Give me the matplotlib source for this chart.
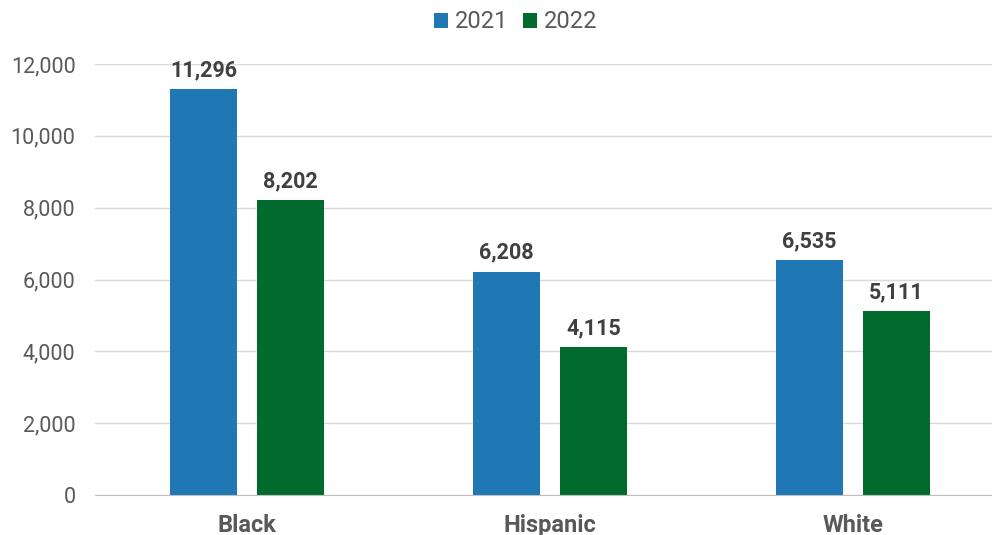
import matplotlib.pyplot as plt
from matplotlib.ticker import FuncFormatter

plt.rcParams['font.family'] = ['Roboto', 'DejaVu Sans']

categories = ["Black", "Hispanic", "White"]
years = ["2021", "2022"]
vals_2021 = [11296, 6208, 6535]
vals_2022 = [8202, 4115, 5111]
colors = ["#1F77B4", "#006B2D"]

fig = plt.figure(figsize=(9.92, 5.35), dpi=100)
ax = fig.add_axes([95 / 992, 1 - 495 / 535, 897 / 992, (495 - 64) / 535])

x = list(range(len(categories)))
w = 0.221
off = 0.1435
for vals, dx, c, lab in [(vals_2021, -off, colors[0], years[0]), (vals_2022, off, colors[1], years[1])]:
    xs = [i + dx for i in x]
    bars = ax.bar(xs, vals, width=w, color=c, label=lab, zorder=3)
    for b, v in zip(bars, vals):
        ax.annotate(f"{v:,}", (b.get_x() + b.get_width() / 2, v), xytext=(0, 6),
                    textcoords="offset points", ha="center", va="bottom",
                    fontsize=15.5, fontweight="bold", color="#404040", annotation_clip=False)

ax.set_xlim(-0.502, 2.459)
ax.set_ylim(0, 12000)
ax.set_yticks(range(0, 12001, 2000))
ax.yaxis.set_major_formatter(FuncFormatter(lambda v, p: f"{int(v):,}"))
ax.set_xticks(x)
ax.set_xticklabels(categories, fontweight="bold", color="#595959", fontsize=17)
ax.tick_params(axis="x", length=0, pad=14)
ax.tick_params(axis="y", length=0, pad=14, labelsize=15.5, labelcolor="#595959")
ax.grid(axis="y", color="#D9D9D9", linewidth=1, zorder=0)
for s in ["top", "right", "left"]:
    ax.spines[s].set_visible(False)
ax.spines["bottom"].set_color("#BFBFBF")
ax.spines["bottom"].set_zorder(4)

fig.legend(loc="center", bbox_to_anchor=(0.52, 0.959), ncol=2, frameon=False,
           fontsize=17, handlelength=0.6, handleheight=0.6, handletextpad=0.3,
           columnspacing=0.6, labelcolor="#595959")

fig.savefig("out.png", dpi=100)
